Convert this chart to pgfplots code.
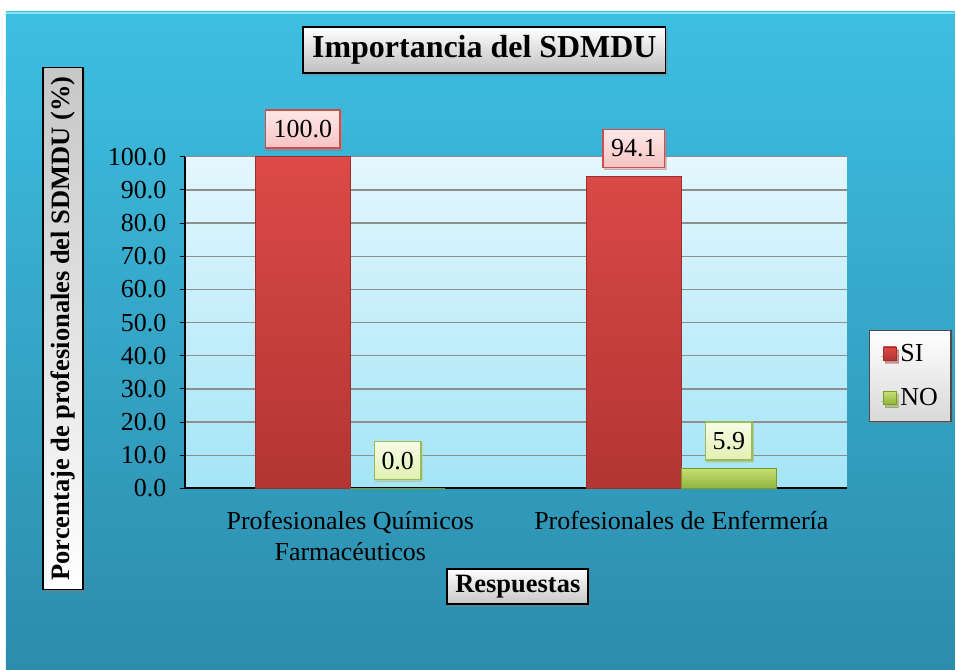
\documentclass[border=0pt]{standalone}
\usepackage{pgfplots}
\pgfplotsset{compat=1.18}
\usepackage{fontspec}
\setmainfont{Liberation Serif}
\usetikzlibrary{shadows}
\definecolor{bgtop}{HTML}{3DBFE2}
\definecolor{bgbot}{HTML}{2C8CAC}
\definecolor{bgedge}{HTML}{7FE6F8}
\definecolor{pltop}{HTML}{E4F7FD}
\definecolor{plbot}{HTML}{A4E5F7}
\definecolor{gridc}{HTML}{8E8E8E}
\definecolor{redtop}{HTML}{DC4A47}
\definecolor{redbot}{HTML}{B23533}
\definecolor{reddraw}{HTML}{9E2E2C}
\definecolor{grntop}{HTML}{C4DE72}
\definecolor{grnbot}{HTML}{8FB33A}
\definecolor{grndraw}{HTML}{7A9A2C}
\definecolor{pinktop}{HTML}{FFE8E8}
\definecolor{pinkbot}{HTML}{F7C3C3}
\definecolor{pinkdraw}{HTML}{C9504F}
\definecolor{lgtop}{HTML}{F7FCE6}
\definecolor{lgbot}{HTML}{E2F0B2}
\definecolor{lgdraw}{HTML}{9BBB59}
\newcommand{\fs}{\fontsize{26bp}{31bp}\selectfont}
\newcommand{\fsb}{\fontsize{26.5bp}{31bp}\selectfont\bfseries}
\newcommand{\fst}{\fontsize{32bp}{36bp}\selectfont\bfseries}
\begin{document}
\begin{tikzpicture}[x=1bp,y=1bp]
\fill[white] (0,0) rectangle (956,670);
\shade[top color=bgtop, bottom color=bgbot] (6,0) rectangle (956,658);
\draw[bgedge, line width=2.5bp] (6,657) -- (956,657);
\begin{axis}[
  at={(185bp,181bp)}, anchor=south west,
  scale only axis, width=663bp, height=332bp,
  axis background/.style={top color=pltop, bottom color=plbot},
  ybar=0pt, bar width=95bp,
  xmin=-0.5, xmax=1.5, ymin=0, ymax=100,
  xtick={0,1},
  xticklabels={{Profesionales Químicos\\Farmacéuticos},{Profesionales de Enfermería}},
  xticklabel style={align=center, font=\fs, text depth=0pt, yshift=-14bp},
  x tick style={draw=none},
  ytick={0,10,...,100},
  yticklabels={0.0,10.0,20.0,30.0,40.0,50.0,60.0,70.0,80.0,90.0,100.0},
  yticklabel style={font=\fs, xshift=-10bp},
  y tick style={black, line width=1bp},
  major tick length=5bp, tick align=outside,
  ymajorgrids, grid style={gridc, line width=1.3bp},
  axis x line*=bottom, axis y line*=left,
  axis line style={-, black, line width=1.8bp},
  title={Importancia del SDMDU},
  title style={at={(axis description cs:0.4525,1.305)}, anchor=center, font=\fst,
    draw=black, line width=1.8bp, top color=white, bottom color=black!25,
    inner xsep=9bp, inner ysep=8.5bp,
    drop shadow={shadow xshift=2bp, shadow yshift=-3bp, opacity=0.35}},
  xlabel={Respuestas},
  xlabel style={at={(axis description cs:0.5030,-0.2952)}, anchor=center, font=\fsb,
    draw=black, line width=1.8bp, top color=white, bottom color=black!22,
    inner xsep=8bp, inner ysep=6bp,
    drop shadow={shadow xshift=2bp, shadow yshift=-3bp, opacity=0.35}},
  ylabel={Porcentaje de profesionales del SDMDU (\%)},
  ylabel style={at={(axis description cs:-0.1840,0.4819)}, anchor=center, font=\fsb,
    draw=black, line width=1.8bp, top color=black!22, bottom color=white,
    inner xsep=9bp, inner ysep=8bp,
    drop shadow={shadow xshift=2bp, shadow yshift=-3bp, opacity=0.35}},
  legend style={at={(axis description cs:1.0332,0.479)}, anchor=north west,
    draw=black!70, line width=1.2bp, top color=white, bottom color=black!15,
    font=\fs, row sep=22bp, inner xsep=10bp, inner ysep=12bp,
    nodes={inner xsep=3bp},
    drop shadow={shadow xshift=2bp, shadow yshift=-3bp, opacity=0.35}},
  legend cell align=left,
  point meta=explicit symbolic,
  nodes near coords,
]
\addplot[top color=redtop, bottom color=redbot, draw=reddraw, line width=0.8bp,
  legend image code/.code={\path[draw=none,fill=none] (0bp,0bp) -- (18bp,0bp);\draw[top color=redtop, bottom color=redbot, draw=reddraw, line width=0.5bp] (4bp,-6.5bp) rectangle (17bp,6.5bp);},
  every node near coord/.append style={font=\fs, anchor=south, yshift=8bp,
    draw=pinkdraw, line width=1.6bp, top color=pinktop, bottom color=pinkbot,
    inner xsep=8bp, minimum height=38bp,
    drop shadow={shadow xshift=1.5bp, shadow yshift=-2bp, opacity=0.3}}]
  coordinates {(0,100.0) [100.0] (1,94.1) [94.1]};
\addplot[top color=grntop, bottom color=grnbot, draw=grndraw, line width=0.8bp,
  legend image code/.code={\path[draw=none,fill=none] (0bp,0bp) -- (18bp,0bp);\draw[top color=grntop, bottom color=grnbot, draw=grndraw, line width=0.5bp] (4bp,-6.5bp) rectangle (17bp,6.5bp);},
  every node near coord/.append style={font=\fs, anchor=south, yshift=8bp,
    draw=lgdraw, line width=1.6bp, top color=lgtop, bottom color=lgbot,
    inner xsep=7bp, minimum height=38bp,
    drop shadow={shadow xshift=1.5bp, shadow yshift=-2bp, opacity=0.3}}]
  coordinates {(0,0.0) [0.0] (1,5.9) [5.9]};
\legend{SI,NO}
\end{axis}
\end{tikzpicture}
\end{document}
